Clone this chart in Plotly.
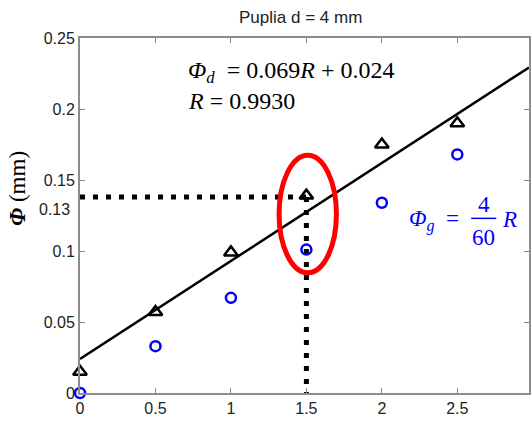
import plotly.graph_objects as go

# ---- data ----
R_vals = [0, 0.5, 1.0, 1.5, 2.0, 2.5]
phi_d = [0.015, 0.057, 0.099, 0.139, 0.175, 0.190]      # measured (triangles)
phi_g = [0.0, 0.033, 0.067, 0.101, 0.134, 0.168]        # geometric (circles)
fit_slope = 0.069
fit_intercept = 0.024
read_R = 1.5
read_phi = 0.138
x_ticks = [0, 0.5, 1, 1.5, 2, 2.5]
x_tick_text = ["0", "0.5", "1", "1.5", "2", "2.5"]
y_ticks = [0, 0.05, 0.1, 0.15, 0.2, 0.25]
y_tick_text = ["0", "0.05", "0.1", "0.15", "0.2", "0.25"]

XMAX = 2.975
serif = "Liberation Serif"
sans = "Liberation Sans"
BLUE = "#0000ff"

fig = go.Figure()

# fitted line
fx = [0, XMAX]
fy = [fit_slope * v + fit_intercept for v in fx]
fig.add_trace(go.Scatter(x=fx, y=fy, mode="lines",
                         line=dict(color="black", width=2.5), showlegend=False))

# dotted reading lines
fig.add_trace(go.Scatter(x=[0, read_R], y=[read_phi, read_phi], mode="lines",
                         line=dict(color="black", width=5, dash="5px,8px"), showlegend=False))
fig.add_trace(go.Scatter(x=[read_R, read_R], y=[read_phi, 0], mode="lines",
                         line=dict(color="black", width=5, dash="5px,8px"), showlegend=False))

# data markers
fig.add_trace(go.Scatter(x=R_vals, y=phi_d, mode="markers", cliponaxis=False,
                         marker=dict(symbol="triangle-up-open", size=12, color="black",
                                     line=dict(width=2.5, color="black")), showlegend=False))
fig.add_trace(go.Scatter(x=R_vals, y=phi_g, mode="markers", cliponaxis=False,
                         marker=dict(symbol="circle-open", size=10, color=BLUE,
                                     line=dict(width=2.5, color=BLUE)), showlegend=False))

# red ellipse highlight
ell_cx, ell_cy, ell_rx, ell_ry = 1.509, 0.126, 0.19, 0.0414
fig.add_shape(type="circle", xref="x", yref="y",
              x0=ell_cx - ell_rx, x1=ell_cx + ell_rx, y0=ell_cy - ell_ry, y1=ell_cy + ell_ry,
              line=dict(color="red", width=5))

annots = []
# equation texts
annots.append(dict(x=0.703, y=0.2263, xref="x", yref="y", xanchor="left", yanchor="middle",
                   text="<i>Φ</i><sub><i>d</i></sub>  = 0.069<i>R</i> + 0.024",
                   showarrow=False, font=dict(family=serif, size=24, color="black")))
annots.append(dict(x=0.703, y=0.2058, xref="x", yref="y", xanchor="left", yanchor="middle",
                   text="<i>R</i> = 0.9930",
                   showarrow=False, font=dict(family=serif, size=24, color="black")))
# blue formula Φg = 4/60 R
annots.append(dict(x=2.525, y=0.1215, xref="x", yref="y", xanchor="right", yanchor="middle",
                   text="<i>Φ</i><sub><i>g</i></sub>  =",
                   showarrow=False, font=dict(family=serif, size=23, color=BLUE)))
annots.append(dict(x=2.675, y=0.1325, xref="x", yref="y", xanchor="center", yanchor="middle",
                   text="4", showarrow=False, font=dict(family=serif, size=23, color=BLUE)))
annots.append(dict(x=2.675, y=0.1095, xref="x", yref="y", xanchor="center", yanchor="middle",
                   text="60", showarrow=False, font=dict(family=serif, size=23, color=BLUE)))
annots.append(dict(x=2.785, y=0.1222, xref="x", yref="y", xanchor="left", yanchor="middle",
                   text="<i>R</i>", showarrow=False, font=dict(family=serif, size=23, color=BLUE)))
fig.add_shape(type="line", xref="x", yref="y", x0=2.592, x1=2.758, y0=0.123, y1=0.123,
              line=dict(color=BLUE, width=1.5))

# extra y label 0.13
annots.append(dict(x=0, y=0.129, xref="paper", yref="y", xanchor="right", yanchor="middle",
                   xshift=-8, text="0.13", showarrow=False,
                   font=dict(family=sans, size=16, color="#222")))
# y axis title
annots.append(dict(x=0, y=0.1437, xref="paper", yref="y", xanchor="center", yanchor="middle",
                   xshift=-62, textangle=-90, text="<b><i>Φ</i></b> (mm)", showarrow=False,
                   font=dict(family=serif, size=23, color="black")))
# title
annots.append(dict(x=0.4917, y=1, xref="paper", yref="paper", yanchor="bottom", yshift=9,
                   text="Puplia d = 4 mm", showarrow=False,
                   font=dict(family=sans, size=17, color="#222")))

axis_common = dict(ticks="inside", ticklen=5, tickcolor="#888", tickwidth=1.2,
                   showline=True, linecolor="#8c8c8c", linewidth=2, mirror="ticks",
                   showgrid=False, zeroline=False,
                   tickfont=dict(family=sans, size=16, color="#222"))

fig.update_layout(
    width=531, height=424,
    margin=dict(l=80, r=0, t=38, b=31),
    paper_bgcolor="white", plot_bgcolor="white",
    annotations=annots,
    xaxis=dict(range=[0, XMAX], tickvals=x_ticks, ticktext=x_tick_text, **axis_common),
    yaxis=dict(range=[0, 0.25], tickvals=y_ticks, ticktext=y_tick_text, **axis_common),
)

fig.write_html("out.html")
